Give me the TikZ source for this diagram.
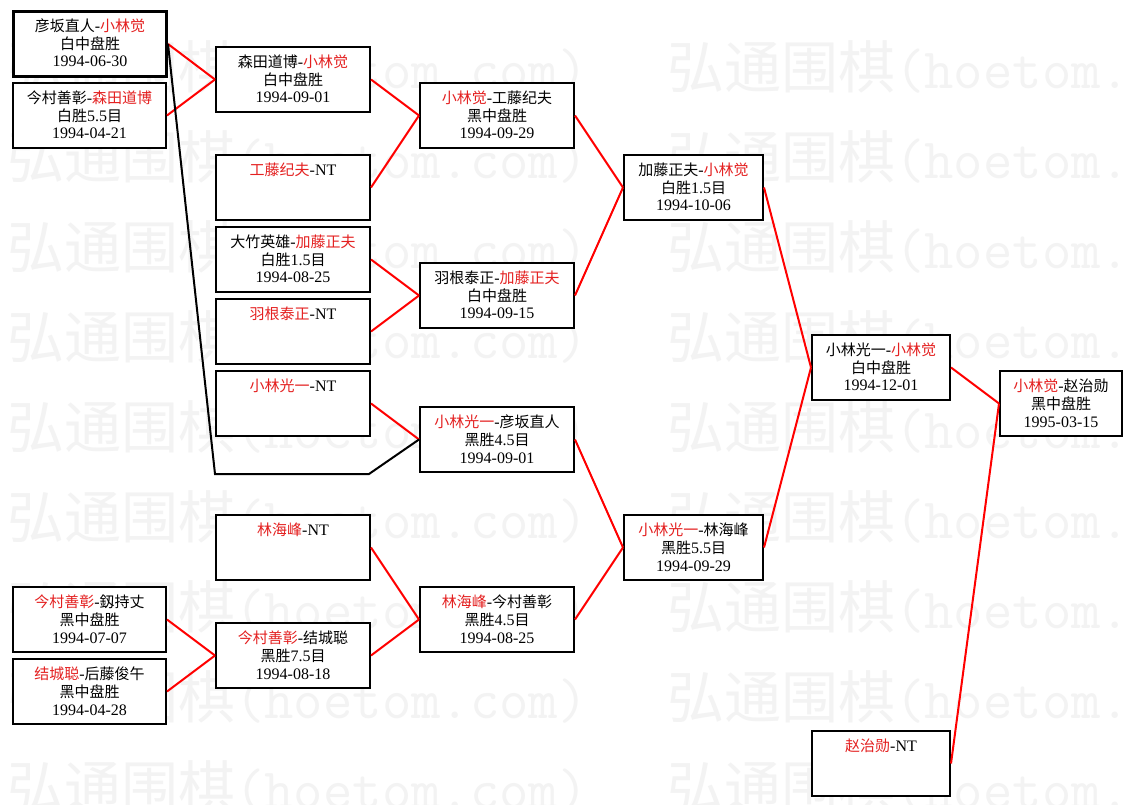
\documentclass[tikz,border=0pt]{standalone}
\usepackage{fontspec}
\setmainfont{Liberation Serif}
\newfontfamily\cjk{Noto Sans CJK SC}
\usetikzlibrary{calc}
\definecolor{wred}{RGB}{228,32,32}
\definecolor{wmark}{RGB}{243,243,243}
\newcommand\R[1]{\textcolor{wred}{#1}}
\newcommand\A[1]{{\rmfamily\fontsize{12pt}{14pt}\selectfont #1}}
\newcommand\bx[8]{%
  \node[box,#1,minimum width=#5,anchor=north west] (#2) at (#3,#4) {};
  \node[txt] (#2-a) at ($(#2.north)+(0,21.5)$) {#6};
  \node[txt] (#2-b) at ($(#2.north)+(0,39.5)$) {#7};
  \node[txt] (#2-c) at ($(#2.north)+(0,57)$) {#8};
}
\newcommand\bxnt[5]{%
  \node[box,minimum width=#4,anchor=north west] (#1) at (#2,#3) {};
  \node[txt] (#1-a) at ($(#1.north)+(0,21.5)$) {#5};
}
\tikzset{
  box/.style={draw=black, line width=1.5pt, fill=white, inner sep=0pt, minimum height=48.75pt},
  thickbox/.style={line width=2.25pt},
  txt/.style={inner sep=0pt, anchor=base, text=black, font=\cjk\fontsize{11.25pt}{13.5pt}\selectfont},
  win/.style={draw=red, line width=1.5pt},
  lose/.style={draw=black, line width=1.5pt},
  wm/.style={inner sep=0pt, anchor=west, text=wmark, font=\cjk\fontsize{42.75pt}{50pt}\selectfont},
}
\begin{document}
\begin{tikzpicture}[x=0.75pt,y=-0.75pt]
\useasboundingbox (0,0) rectangle (1131,805);
\fill[white] (0,0) rectangle (1131,805);
% watermark
\begin{scope}
\clip (0,0) rectangle (1131,805);
\foreach \k in {0,...,8}{
  \node[wm] (wma\k) at (7,{67+90*\k}) {弘通围棋{\ttfamily\fontsize{42.75pt}{50pt}\selectfont (hoetom.com)}};
  \node[wm] (wmb\k) at (667,{67+90*\k}) {弘通围棋{\ttfamily\fontsize{42.75pt}{50pt}\selectfont (hoetom.com)}};
}
\end{scope}
% column 1
\bx{thickbox}{B1}{12}{10}{114.75pt}{彦坂直人\A{-}\R{小林觉}}{白中盘胜}{\A{1994-06-30}}
\bx{}{B2}{12}{82}{114.75pt}{今村善彰\A{-}\R{森田道博}}{白胜\A{5.5}目}{\A{1994-04-21}}
\bx{}{B3}{12}{586}{114.75pt}{\R{今村善彰}\A{-}釼持丈}{黑中盘胜}{\A{1994-07-07}}
\bx{}{B4}{12}{658}{114.75pt}{\R{结城聪}\A{-}后藤俊午}{黑中盘胜}{\A{1994-04-28}}
% column 2
\bx{}{C1}{215}{46}{115.5pt}{森田道博\A{-}\R{小林觉}}{白中盘胜}{\A{1994-09-01}}
\bxnt{C2}{215}{154}{115.5pt}{\R{工藤纪夫}\A{-NT}}
\bx{}{C3}{215}{226}{115.5pt}{大竹英雄\A{-}\R{加藤正夫}}{白胜\A{1.5}目}{\A{1994-08-25}}
\bxnt{C4}{215}{298}{115.5pt}{\R{羽根泰正}\A{-NT}}
\bxnt{C5}{215}{370}{115.5pt}{\R{小林光一}\A{-NT}}
\bxnt{C6}{215}{514}{115.5pt}{\R{林海峰}\A{-NT}}
\bx{}{C7}{215}{622}{115.5pt}{\R{今村善彰}\A{-}结城聪}{黑胜\A{7.5}目}{\A{1994-08-18}}
% column 3
\bx{}{D1}{419}{82}{115.5pt}{\R{小林觉}\A{-}工藤纪夫}{黑中盘胜}{\A{1994-09-29}}
\bx{}{D2}{419}{262}{115.5pt}{羽根泰正\A{-}\R{加藤正夫}}{白中盘胜}{\A{1994-09-15}}
\bx{}{D3}{419}{406}{115.5pt}{\R{小林光一}\A{-}彦坂直人}{黑胜\A{4.5}目}{\A{1994-09-01}}
\bx{}{D4}{419}{586}{115.5pt}{\R{林海峰}\A{-}今村善彰}{黑胜\A{4.5}目}{\A{1994-08-25}}
% column 4
\bx{}{E1}{623}{154}{104.25pt}{加藤正夫\A{-}\R{小林觉}}{白胜\A{1.5}目}{\A{1994-10-06}}
\bx{}{E2}{623}{514}{104.25pt}{\R{小林光一}\A{-}林海峰}{黑胜\A{5.5}目}{\A{1994-09-29}}
% column 5 and final
\bx{}{F1}{811}{334}{103.5pt}{小林光一\A{-}\R{小林觉}}{白中盘胜}{\A{1994-12-01}}
\bxnt{G2}{811}{730}{103.5pt}{\R{赵治勋}\A{-NT}}
\bx{}{G1}{999}{370}{91.5pt}{\R{小林觉}\A{-}赵治勋}{黑中盘胜}{\A{1995-03-15}}
% connectors
\draw[win] (B1.east) -- (C1.west);
\draw[win] (B2.east) -- (C1.west);
\draw[win] (B3.east) -- (C7.west);
\draw[win] (B4.east) -- (C7.west);
\draw[win] (C1.east) -- (D1.west);
\draw[win] (C2.east) -- (D1.west);
\draw[win] (C3.east) -- (D2.west);
\draw[win] (C4.east) -- (D2.west);
\draw[win] (C5.east) -- (D3.west);
\draw[win] (C6.east) -- (D4.west);
\draw[win] (C7.east) -- (D4.west);
\draw[win] (D1.east) -- (E1.west);
\draw[win] (D2.east) -- (E1.west);
\draw[win] (D3.east) -- (E2.west);
\draw[win] (D4.east) -- (E2.west);
\draw[win] (E1.east) -- (F1.west);
\draw[win] (E2.east) -- (F1.west);
\draw[win] (F1.east) -- (G1.west);
\draw[win] (G2.east) -- (G1.west);
\coordinate (k1) at (215,474);
\coordinate (k2) at (369,474);
\draw[lose] (B1.east) -- (k1) -- (k2) -- (D3.west);
\end{tikzpicture}
\end{document}
